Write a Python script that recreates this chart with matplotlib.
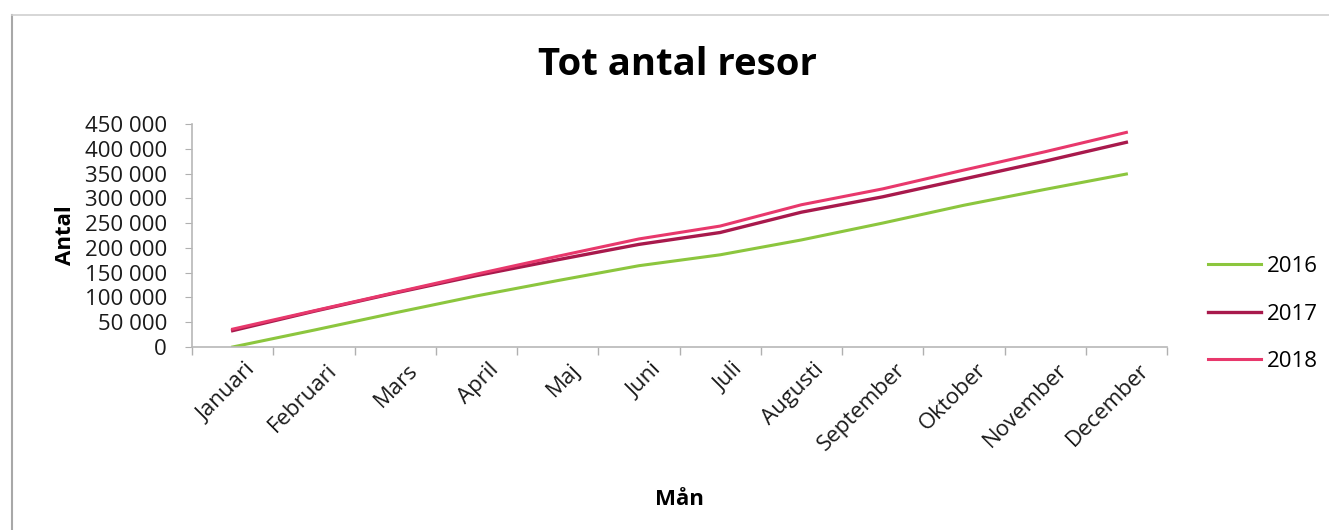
import matplotlib
matplotlib.use("Agg")
import matplotlib.pyplot as plt
from matplotlib.lines import Line2D
from matplotlib.ticker import FuncFormatter, FixedLocator

months = ["Januari", "Februari", "Mars", "April", "Maj", "Juni", "Juli",
          "Augusti", "September", "Oktober", "November", "December"]
resor_2016 = [0, 34000, 69000, 103000, 134000, 164000, 186000, 216000,
              250000, 286000, 318000, 349000]
resor_2017 = [33000, 72000, 109000, 144000, 176000, 207000, 231000, 272000,
              303000, 339000, 375000, 413000]
resor_2018 = [36000, 73000, 110000, 147000, 183000, 218000, 244000, 287000,
              319000, 357000, 394000, 433000]
y_ticks = list(range(0, 450001, 50000))

plt.rcParams["font.family"] = ["Open Sans", "DejaVu Sans"]

fig = plt.figure(figsize=(13.29, 5.30), dpi=100)
ax = fig.add_axes([0.1445, 0.3453, 0.7336, 0.4208])

x = list(range(len(months)))
ax.plot(x, resor_2016, color="#8CC63E", lw=2.2, label="2016")
ax.plot(x, resor_2017, color="#A8194C", lw=2.4, label="2017")
ax.plot(x, resor_2018, color="#E8386C", lw=2.2, label="2018")

ax.set_xlim(-0.5, len(months) - 0.5)
ax.set_ylim(0, 450000)

ax.yaxis.set_major_locator(FixedLocator(y_ticks))
ax.yaxis.set_major_formatter(FuncFormatter(lambda v, p: f"{int(v):,}".replace(",", " ")))

# month labels sit slightly right of each category centre (invisible major ticks)
ax.set_xticks([i + 0.15 for i in x])
ax.set_xticklabels(months, rotation=45, ha="right", rotation_mode="anchor",
                   fontsize=16, color="#1a1a1a")
ax.set_xticks([i - 0.5 for i in range(len(months) + 1)], minor=True)
ax.tick_params(axis="x", which="major", length=0, pad=9)
ax.tick_params(axis="x", which="minor", length=6, color="#b0b0b0", width=1)
ax.tick_params(axis="y", length=5, color="#b0b0b0", labelsize=16, pad=13,
               labelcolor="#1a1a1a")

for side in ("top", "right"):
    ax.spines[side].set_visible(False)
for side in ("left", "bottom"):
    ax.spines[side].set_color("#b8b8b8")
    ax.spines[side].set_linewidth(1.2)

ax.set_ylabel("Antal", fontsize=16, fontweight="bold", labelpad=6)
ax.set_xlabel("Mån", fontsize=16, fontweight="bold", labelpad=24)
fig.suptitle("Tot antal resor", fontsize=27.5, fontweight="bold",
             x=0.51, y=0.877, va="center")

ax.legend(loc="center left", bbox_to_anchor=(0.909, 0.4075), bbox_transform=fig.transFigure,
          frameon=False, fontsize=16, handlelength=2.4, handletextpad=0.25,
          labelspacing=1.2, borderpad=0, borderaxespad=0)

# chart frame edges
fig.add_artist(Line2D([0.009, 0.009], [0.0, 0.972], transform=fig.transFigure,
                      color="#a8a8a8", lw=1.5))
fig.add_artist(Line2D([0.009, 1.0], [0.972, 0.972], transform=fig.transFigure,
                      color="#d0d0d0", lw=1.2))

fig.savefig("out.png", dpi=100, facecolor="white")
